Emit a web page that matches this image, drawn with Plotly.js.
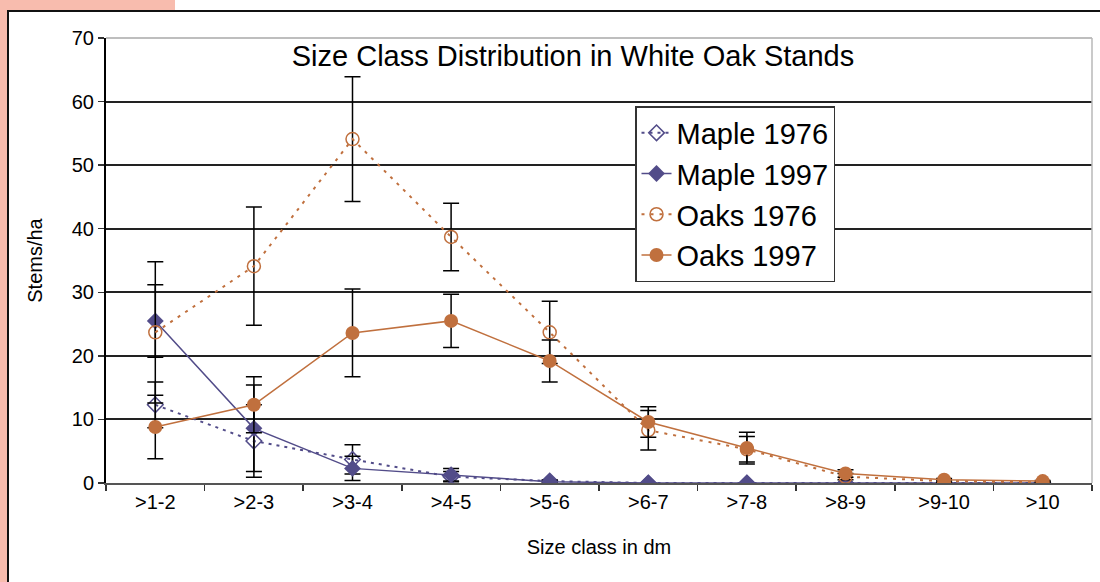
<!DOCTYPE html>
<html>
<head>
<meta charset="utf-8">
<script src="https://cdn.plot.ly/plotly-3.0.1.min.js"></script>
<style>
  html, body { margin: 0; padding: 0; background: #ffffff; }
  #wrap { position: relative; width: 1100px; height: 582px; overflow: hidden; }
  #pinkL { position: absolute; left: 0; top: 0; width: 7px; height: 582px; background: #f8bcae; }
  #pinkT { position: absolute; left: 0; top: 0; width: 175px; height: 10px; background: #f8bcae; }
  #lineT { position: absolute; left: 7px; top: 10px; width: 1093px; height: 2px; background: #111; }
  #lineL { position: absolute; left: 7px; top: 10px; width: 2px; height: 572px; background: #111; }
  #chart { position: absolute; left: 0; top: 0; width: 1100px; height: 582px; }
</style>
</head>
<body>
<div id="wrap">
  <div id="pinkL"></div>
  <div id="pinkT"></div>
  <div id="lineT"></div>
  <div id="lineL"></div>
  <div id="chart"></div>
</div>
<script>
const categories = ['>1-2', '>2-3', '>3-4', '>4-5', '>5-6', '>6-7', '>7-8', '>8-9', '>9-10', '>10'];

const maple1976    = [12.3, 6.6, 3.7, 1.0, 0.3, 0, 0, 0, 0, 0];
const maple1976Err = [3.6, 5.7, 2.3, 0.8, 0.2, 0, 0, 0, 0, 0];

const maple1997    = [25.5, 8.6, 2.3, 1.3, 0.2, 0, 0, 0, 0, 0];
const maple1997Err = [5.7, 6.8, 1.9, 1.0, 0.2, 0, 0, 0, 0, 0];

const oaks1976     = [23.7, 34.1, 54.1, 38.7, 23.7, 8.3, 5.3, 1.0, 0.3, 0.1];
const oaks1976Err  = [11.1, 9.3, 9.8, 5.3, 4.9, 3.1, 2.0, 0.5, 0.2, 0.1];

const oaks1997     = [8.8, 12.3, 23.6, 25.5, 19.2, 9.6, 5.5, 1.5, 0.5, 0.3];
const oaks1997Err  = [5.0, 4.4, 6.9, 4.2, 3.3, 2.4, 2.5, 0.6, 0.2, 0.1];

const titleText = 'Size Class Distribution in White Oak Stands';
const xTitle = 'Size class in dm';
const yTitle = 'Stems/ha';

const PURPLE = '#524c89';
const ORANGE = '#c0703e';
const FONT = 'Liberation Sans, Arial, sans-serif';

function err(arr) {
  return { type: 'data', array: arr, visible: true, color: '#000000', thickness: 1.5, width: 8 };
}

const traces = [
  {
    name: 'Maple 1976', x: categories, y: maple1976, type: 'scatter', mode: 'lines+markers',
    line: { color: PURPLE, width: 2, dash: '3px,5px' },
    marker: { symbol: 'diamond-open', size: 12, color: PURPLE, line: { color: PURPLE, width: 1.5 } },
    error_y: err(maple1976Err)
  },
  {
    name: 'Maple 1997', x: categories, y: maple1997, type: 'scatter', mode: 'lines+markers',
    line: { color: PURPLE, width: 1.5 },
    marker: { symbol: 'diamond', size: 13, color: PURPLE },
    error_y: err(maple1997Err)
  },
  {
    name: 'Oaks 1976', x: categories, y: oaks1976, type: 'scatter', mode: 'lines+markers',
    line: { color: ORANGE, width: 2, dash: '3px,6px' },
    marker: { symbol: 'circle-open', size: 13, color: ORANGE, line: { color: ORANGE, width: 1.5 } },
    error_y: err(oaks1976Err)
  },
  {
    name: 'Oaks 1997', x: categories, y: oaks1997, type: 'scatter', mode: 'lines+markers',
    line: { color: ORANGE, width: 1.5 },
    marker: { symbol: 'circle', size: 14, color: ORANGE },
    error_y: err(oaks1997Err)
  }
];

const layout = {
  width: 1100, height: 582,
  margin: { l: 106, r: 8, t: 38, b: 99 },
  paper_bgcolor: 'rgba(0,0,0,0)',
  plot_bgcolor: '#ffffff',
  font: { family: FONT, color: '#000000', size: 20 },
  showlegend: true,
  title: {
    text: titleText,
    font: { family: FONT, size: 29, color: '#000000' },
    xref: 'container', x: 573 / 1100, xanchor: 'center',
    yref: 'container', y: 1 - 56 / 582, yanchor: 'middle'
  },
  xaxis: {
    type: 'category',
    range: [-0.5, 9.5],
    tickson: 'boundaries',
    ticks: 'outside', ticklen: 6, tickwidth: 1.5, tickcolor: '#333333',
    showline: true, linecolor: '#555555', linewidth: 2,
    showgrid: false, zeroline: false,
    tickfont: { family: FONT, size: 20, color: '#000000' },
    title: { text: xTitle, font: { family: FONT, size: 20, color: '#000000' }, standoff: 28 }
  },
  yaxis: {
    range: [0, 70],
    dtick: 10,
    ticks: 'outside', ticklen: 6, tickwidth: 1.5, tickcolor: '#333333',
    showline: true, linecolor: '#000000', linewidth: 2,
    showgrid: true, gridcolor: '#222222', gridwidth: 2,
    zeroline: false,
    tickfont: { family: FONT, size: 20, color: '#000000' },
    title: { text: yTitle, font: { family: FONT, size: 20, color: '#000000' }, standoff: 24 }
  },
  legend: {
    x: (635 - 106) / 986, xanchor: 'left',
    y: 1 - (106 - 38) / 445, yanchor: 'top',
    bgcolor: '#ffffff', bordercolor: '#333333', borderwidth: 1.5,
    font: { family: FONT, size: 29, color: '#000000' }
  },
  shapes: [
    { type: 'line', xref: 'paper', yref: 'paper', x0: 0, x1: 1, y0: 1, y1: 1,
      line: { color: '#a8a8a8', width: 1.5 }, layer: 'above' },
    { type: 'line', xref: 'paper', yref: 'paper', x0: 1, x1: 1, y0: 0, y1: 1,
      line: { color: '#b8b8b8', width: 1.5 }, layer: 'above' }
  ]
};

Plotly.newPlot('chart', traces, layout, { displayModeBar: false, staticPlot: true });
</script>
</body>
</html>
